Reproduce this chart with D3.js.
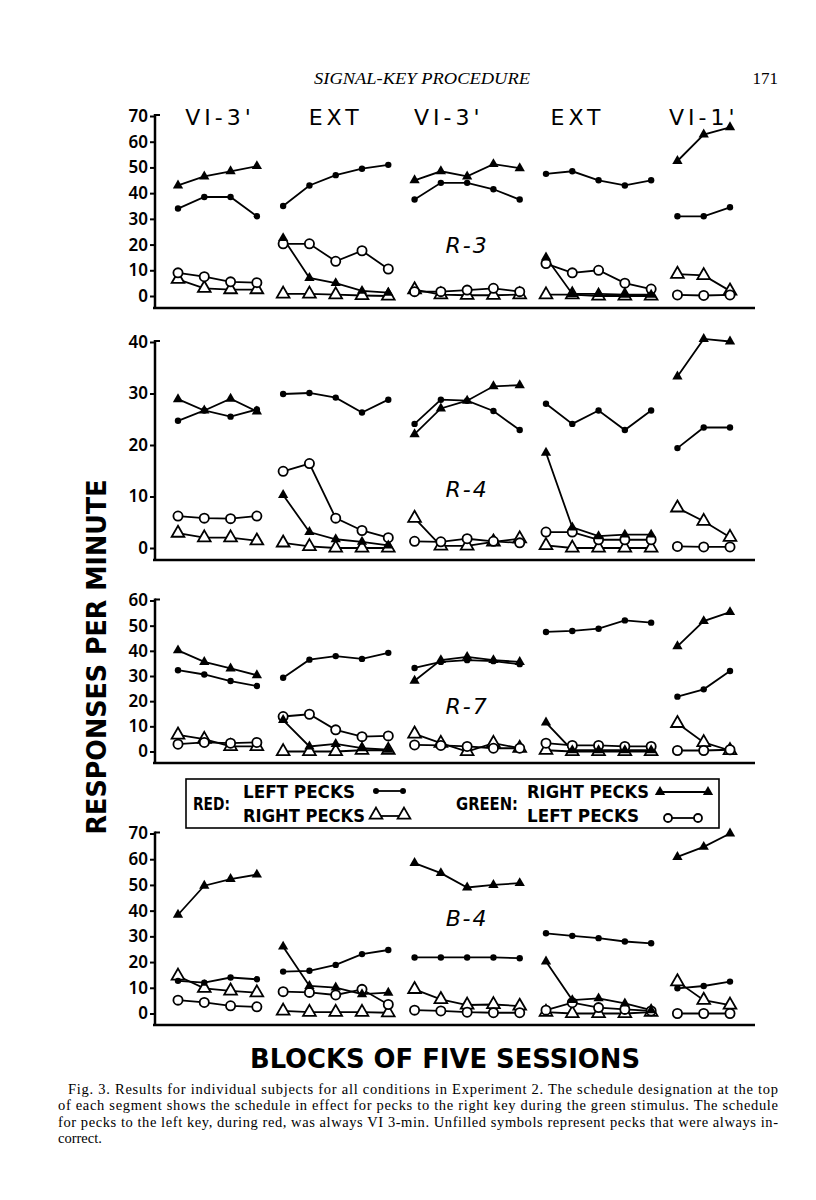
<!DOCTYPE html>
<html>
<head>
<meta charset="utf-8">
<script src="https://cdn.jsdelivr.net/npm/d3@7"></script>
<style>
  body { margin: 0; background: #fff; }
  svg { display: block; }
</style>
</head>
<body>
<div id="container"></div>
<script>
// Blocks of five sessions, 0..21, split into five conditions
const groupLabels = ["VI-3'", "EXT", "VI-3'", "EXT", "VI-1'"];
const groupStarts = [0, 4, 9, 14, 19];
const groupSizes = [4, 5, 5, 5, 3];

const subjects = ["R-3", "R-4", "R-7", "B-4"];
const yMaxes = [70, 40, 60, 70];

// R-3
const r3RedLeft    = [34, 38.5, 38.5, 31,   35, 43, 47, 49.5, 51,   37.5, 44, 44, 41.5, 37.5,   47.5, 48.5, 45, 43, 45,   31, 31, 34.5];
const r3RedRight   = [6.5, 3, 2.5, 2.5,   0.8, 0.8, 0.5, 0.2, 0,   2.5, 0.5, 0.3, 0.3, 0.5,   0.5, 0.5, 0, 0, 0,   8.5, 8, 2];
const r3GreenRight = [43, 46.5, 48.5, 50.5,   22.5, 7, 5, 2, 1.3,   45, 48.5, 46.5, 51.3, 49.7,   15, 0.8, 0.8, 0.5, 0.5,   52.5, 62.8, 65.6];
const r3GreenLeft  = [9, 7.5, 5.5, 5.2,   20.3, 20.3, 13.5, 17.6, 10.5,   1.7, 1.7, 2.3, 3, 1.7,   12.6, 9, 10, 5, 2.7,   0.4, 0.2, 0.4];

// R-4
const r4RedLeft    = [24.7, 26.7, 25.5, 26.9,   29.9, 30.1, 29.2, 26.3, 28.8,   24.1, 28.8, 28.6, 26.6, 22.9,   28, 24.1, 26.7, 22.9, 26.7,   19.4, 23.4, 23.4];
const r4RedRight   = [2.9, 2, 2, 1.4,   1, 0.3, 0, 0, 0,   5.8, 0.4, 0.4, 1.2, 1.8,   0.5, 0, 0, 0, 0,   7.8, 5.2, 2.1];
const r4GreenRight = [28.9, 26.7, 29, 26.5,   10.3, 3.1, 1.7, 1.2, 0.5,   22.1, 27.1, 28.6, 31.4, 31.6,   18.5, 4, 2.3, 2.6, 2.6,   33.3, 40.6, 40.1];
const r4GreenLeft  = [6.2, 5.8, 5.7, 6.2,   14.9, 16.4, 5.8, 3.4, 2,   1.3, 1.2, 1.8, 1.3, 1,   3.1, 3.1, 1.6, 1.6, 1.6,   0.3, 0.2, 0.2];

// R-7
const r7RedLeft    = [32.3, 30.6, 28, 26,   29.3, 36.5, 37.9, 36.8, 39.2,   33.2, 35.6, 36.3, 35.9, 34.7,   47.5, 47.9, 48.8, 52.1, 51.2,   21.8, 24.7, 32];
const r7RedRight   = [6.6, 4.9, 2, 2,   0, 0, 0, 0.5, 0.5,   7, 3.3, 0, 3.3, 1.3,   0.5, 0, 0, 0, 0,   11.2, 3.6, 0.4];
const r7GreenRight = [40.2, 35.6, 33, 30.3,   12.5, 2, 3, 1.3, 0.7,   28.1, 36.3, 37.6, 36.3, 35.6,   11.5, 0.5, 0.5, 0.5, 0.5,   41.8, 51.8, 55.4];
const r7GreenLeft  = [2.9, 3.6, 3.3, 3.6,   13.9, 14.8, 8.6, 5.9, 6.2,   2.6, 2.4, 2, 1.3, 1.3,   3.3, 2.4, 2.4, 2, 2,   0.4, 0.4, 0.7];

// B-4
const b4RedLeft    = [12.7, 12, 14, 13.3,   16.3, 16.6, 18.9, 23.1, 24.7,   21.8, 21.8, 21.8, 21.8, 21.5,   31.2, 30.2, 29.3, 28, 27.3,   9.8, 10.7, 12.4];
const b4RedRight   = [14.6, 9.8, 8.8, 8.1,   1, 0.5, 0.5, 0.5, 0.3,   9.4, 5.5, 3.3, 3.5, 2.9,   0.5, 0, 0, 0, 0.5,   12.4, 5.2, 3.3];
const b4GreenRight = [38.4, 49.7, 52.3, 54,   26, 10.7, 10.1, 7.5, 8.1,   58.5, 54.6, 49, 50, 50.7,   20.2, 5.2, 5.9, 3.9, 1.3,   60.9, 64.8, 70];
const b4GreenLeft  = [5.2, 4.3, 3, 2.6,   8.5, 8.2, 7.2, 9.4, 3.5,   1.3, 1, 0.5, 0.3, 0.3,   1.3, 4.2, 2.3, 1.6, 1,   0, 0, 0];

const seriesBySubject = [
    [r3RedLeft, r3RedRight, r3GreenRight, r3GreenLeft],
    [r4RedLeft, r4RedRight, r4GreenRight, r4GreenLeft],
    [r7RedLeft, r7RedRight, r7GreenRight, r7GreenLeft],
    [b4RedLeft, b4RedRight, b4GreenRight, b4GreenLeft]
];

// Layout (pixels)
const width = 816, height = 1200;
const axisX = 155;
const panels = [
    { y0: 296,   yTop: 116,   base: 308,  labelV: 20 },
    { y0: 548,   yTop: 342,   base: 560,  labelV: 11.5 },
    { y0: 751.5, yTop: 600.5, base: 763,  labelV: 18 },
    { y0: 1013.5, yTop: 833.5, base: 1025, labelV: 37 }
];
const headerAt = [1.6, 6.0, 10.3, 15.2, 20.0];

const svg = d3.select("#container").append("svg")
    .attr("width", width)
    .attr("height", height);

const x = d3.scaleLinear().domain([0, 21]).range([178, 730]);

const sans = "'DejaVu Sans Condensed', 'DejaVu Sans', sans-serif";
const thin = "'DejaVu Sans', sans-serif";
const serif = "'Liberation Serif', 'DejaVu Serif', serif";

// running head
svg.append("text")
    .attr("x", 422).attr("y", 84)
    .attr("text-anchor", "middle")
    .attr("textLength", 216)
    .attr("lengthAdjust", "spacingAndGlyphs")
    .style("font-family", serif).style("font-style", "italic")
    .style("font-size", "17px")
    .text("SIGNAL-KEY PROCEDURE");
svg.append("text")
    .attr("x", 778).attr("y", 84)
    .attr("text-anchor", "end")
    .style("font-family", serif)
    .style("font-size", "17px")
    .text("171");

// condition headers
svg.selectAll(".hdr")
    .data(groupLabels)
    .enter().append("text")
    .attr("class", "hdr")
    .attr("x", (d, i) => x(headerAt[i]))
    .attr("y", 125)
    .attr("text-anchor", "middle")
    .style("font-family", thin)
    .style("font-size", "22px")
    .style("letter-spacing", "4px")
    .text(d => d);

const triFilled = d3.symbol().type(d3.symbolTriangle).size(46);
const triOpen = d3.symbol().type(d3.symbolTriangle).size(70);

panels.forEach((p, k) => {
    const g = svg.append("g");
    const y = d3.scaleLinear().domain([0, yMaxes[k]]).range([p.y0, p.yTop]);

    // y axis
    const yAxis = d3.axisLeft(y)
        .tickValues(d3.range(0, yMaxes[k] + 1, 10))
        .tickSize(5)
        .tickPadding(2);
    const ax = g.append("g")
        .attr("transform", `translate(${axisX},0)`)
        .call(yAxis);
    ax.select(".domain").remove();
    ax.selectAll(".tick line").attr("stroke", "#000").attr("stroke-width", 2);
    ax.selectAll(".tick text")
        .style("font-family", "'Noto Sans', sans-serif")
        .style("font-weight", 600)
        .style("font-size", "17px")
        .attr("fill", "#000");
    g.append("line")
        .attr("x1", axisX).attr("x2", axisX)
        .attr("y1", p.yTop - 2).attr("y2", p.base)
        .attr("stroke", "#000").attr("stroke-width", 2.5);
    g.append("line")
        .attr("x1", axisX).attr("x2", axisX + 5)
        .attr("y1", p.yTop - 1).attr("y2", p.yTop - 1)
        .attr("stroke", "#000").attr("stroke-width", 2);
    // baseline
    g.append("line")
        .attr("x1", axisX - 2).attr("x2", 755)
        .attr("y1", p.base).attr("y2", p.base)
        .attr("stroke", "#000").attr("stroke-width", 2.5);

    // subject label
    g.append("text")
        .attr("x", x(11))
        .attr("y", y(p.labelV) + 8)
        .attr("text-anchor", "middle")
        .style("font-family", thin)
        .style("font-style", "italic")
        .style("font-size", "22px")
        .style("letter-spacing", "2px")
        .text(subjects[k]);

    const line = d3.line().x(d => x(d.i)).y(d => y(d.v));
    const [redLeft, redRight, greenRight, greenLeft] = seriesBySubject[k];
    const series = [redRight, greenLeft, redLeft, greenRight];
    const kinds = ["triOpen", "circOpen", "dot", "triFilled"];

    // connecting lines, broken between conditions
    series.forEach(vals => {
        groupStarts.forEach((s, gi) => {
            const pts = d3.range(s, s + groupSizes[gi]).map(i => ({ i, v: vals[i] }));
            g.append("path")
                .attr("d", line(pts))
                .attr("fill", "none")
                .attr("stroke", "#000")
                .attr("stroke-width", 1.8);
        });
    });

    // markers
    series.forEach((vals, si) => {
        const pts = vals.map((v, i) => ({ i, v }));
        const kind = kinds[si];
        if (kind === "dot") {
            g.selectAll(null).data(pts).enter().append("circle")
                .attr("cx", d => x(d.i)).attr("cy", d => y(d.v))
                .attr("r", 3.2).attr("fill", "#000");
        } else if (kind === "circOpen") {
            g.selectAll(null).data(pts).enter().append("circle")
                .attr("cx", d => x(d.i)).attr("cy", d => y(d.v))
                .attr("r", 4.6).attr("fill", "#fff")
                .attr("stroke", "#000").attr("stroke-width", 1.8);
        } else if (kind === "triOpen") {
            g.selectAll(null).data(pts).enter().append("path")
                .attr("d", triOpen)
                .attr("transform", d => `translate(${x(d.i)},${y(d.v)})`)
                .attr("fill", "#fff")
                .attr("stroke", "#000").attr("stroke-width", 1.8);
        } else {
            g.selectAll(null).data(pts).enter().append("path")
                .attr("d", triFilled)
                .attr("transform", d => `translate(${x(d.i)},${y(d.v)})`)
                .attr("fill", "#000");
        }
    });
});

// y axis title
svg.append("text")
    .attr("transform", "translate(106,657) rotate(-90)")
    .attr("text-anchor", "middle")
    .attr("textLength", 355)
    .attr("lengthAdjust", "spacingAndGlyphs")
    .style("font-family", sans)
    .style("font-weight", "bold")
    .style("font-size", "27px")
    .text("RESPONSES  PER  MINUTE");

// legend
const lg = svg.append("g");
lg.append("rect")
    .attr("x", 186).attr("y", 779)
    .attr("width", 533).attr("height", 49)
    .attr("fill", "#fff")
    .attr("stroke", "#000").attr("stroke-width", 1.6);
const legendText = (tx, ty, s, len) => lg.append("text")
    .attr("x", tx).attr("y", ty)
    .attr("textLength", len)
    .attr("lengthAdjust", "spacingAndGlyphs")
    .style("font-family", sans)
    .style("font-weight", "bold")
    .style("font-size", "17px")
    .text(s);
legendText(193, 810, "RED:", 37);
legendText(243, 798, "LEFT  PECKS", 112);
legendText(243, 822, "RIGHT  PECKS", 122);
legendText(456, 810, "GREEN:", 62);
legendText(527, 798, "RIGHT  PECKS", 122);
legendText(527, 822, "LEFT  PECKS", 112);

const legLine = (x1, x2, yy) => lg.append("line")
    .attr("x1", x1).attr("x2", x2).attr("y1", yy).attr("y2", yy)
    .attr("stroke", "#000").attr("stroke-width", 1.8);
legLine(376, 403, 791);
[376, 403].forEach(cx => lg.append("circle").attr("cx", cx).attr("cy", 791).attr("r", 3).attr("fill", "#000"));
legLine(376, 404, 816);
[376, 404].forEach(cx => lg.append("path").attr("d", triOpen)
    .attr("transform", `translate(${cx},815)`)
    .attr("fill", "#fff").attr("stroke", "#000").attr("stroke-width", 1.8));
legLine(660, 708, 792);
[660, 708].forEach(cx => lg.append("path").attr("d", triFilled)
    .attr("transform", `translate(${cx},792)`).attr("fill", "#000"));
legLine(668, 698, 818);
[668, 698].forEach(cx => lg.append("circle").attr("cx", cx).attr("cy", 818).attr("r", 4)
    .attr("fill", "#fff").attr("stroke", "#000").attr("stroke-width", 1.8));

// x axis title
svg.append("text")
    .attr("x", 445).attr("y", 1068)
    .attr("text-anchor", "middle")
    .attr("textLength", 390)
    .attr("lengthAdjust", "spacingAndGlyphs")
    .style("font-family", sans)
    .style("font-weight", "bold")
    .style("font-size", "27px")
    .text("BLOCKS  OF  FIVE  SESSIONS");

// caption
const captionLines = [
    "Fig. 3. Results for individual subjects for all conditions in Experiment 2. The schedule designation at the top",
    "of each segment shows the schedule in effect for pecks to the right key during the green stimulus. The schedule",
    "for pecks to the left key, during red, was always VI 3-min. Unfilled symbols represent pecks that were always in-",
    "correct."
];
captionLines.forEach((s, i) => {
    const t = svg.append("text")
        .attr("x", i === 0 ? 68 : 58)
        .attr("y", 1094 + i * 16.3)
        .style("font-family", serif)
        .style("font-size", "14.5px")
        .text(s);
    if (i < 3) t.attr("textLength", i === 0 ? 710 : 720).attr("lengthAdjust", "spacing");
});
</script>
</body>
</html>
